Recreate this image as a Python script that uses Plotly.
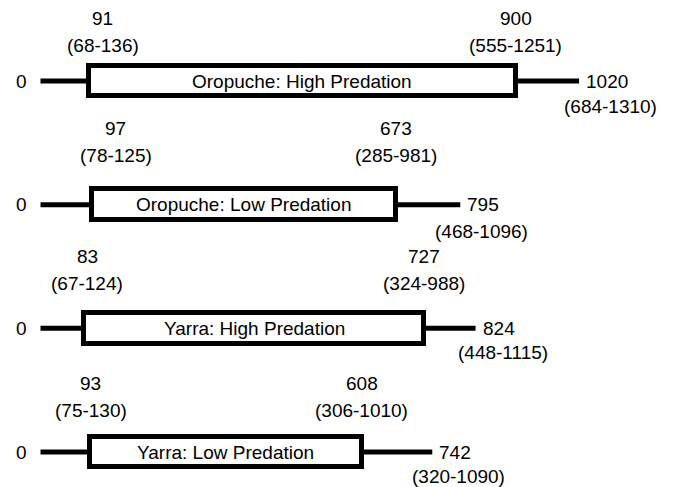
import plotly.graph_objects as go

# ---- data ----
groups = ["Oropuche: High Predation", "Oropuche: Low Predation",
          "Yarra: High Predation", "Yarra: Low Predation"]
start_vals = [91, 97, 83, 93]
start_ci = ["(68-136)", "(78-125)", "(67-124)", "(75-130)"]
box_end_vals = [900, 673, 727, 608]
box_end_ci = ["(555-1251)", "(285-981)", "(324-988)", "(306-1010)"]
final_vals = [1020, 795, 824, 742]
final_ci = ["(684-1310)", "(468-1096)", "(448-1115)", "(320-1090)"]
origin = 0

rows = list(range(len(groups)))

# ---- label placement (pixels, style only) ----
top_val_shift = [63, 76, 72, 69]
top_ci_shift = [36, 49, 45, 42]
start_xshift = [14, 24, 3, 1]
end_ci_xshift = [31, 21, 27, 26]
end_ci_yshift = [-25, -27, -24, -24]

FONT = "Liberation Sans, Arial, Helvetica, sans-serif"
FS = 19

fig = go.Figure()

# whisker lines (left and right of each box)
for i in rows:
    fig.add_trace(go.Scatter(
        x=[origin, start_vals[i], None, box_end_vals[i], final_vals[i]],
        y=[i, i, None, i, i],
        mode="lines", line=dict(color="black", width=5),
        hoverinfo="skip", showlegend=False, cliponaxis=False))

# boxes
fig.add_trace(go.Bar(
    y=rows,
    x=[e - s for s, e in zip(start_vals, box_end_vals)],
    base=start_vals,
    orientation="h",
    width=0.25,
    marker=dict(color="white", line=dict(color="black", width=5)),
    hoverinfo="skip", showlegend=False))

ann = []
for i in rows:
    ann.append(dict(x=(start_vals[i] + box_end_vals[i]) / 2, y=i, text=groups[i],
                    showarrow=False, xanchor="center", yanchor="middle"))
    ann.append(dict(x=origin, y=i, text=str(origin), showarrow=False,
                    xanchor="right", yanchor="middle", xshift=-12))
    ann.append(dict(x=start_vals[i], y=i, text=str(start_vals[i]), showarrow=False,
                    xanchor="center", yanchor="middle",
                    xshift=start_xshift[i], yshift=top_val_shift[i]))
    ann.append(dict(x=start_vals[i], y=i, text=start_ci[i], showarrow=False,
                    xanchor="center", yanchor="middle",
                    xshift=start_xshift[i], yshift=top_ci_shift[i]))
    ann.append(dict(x=box_end_vals[i], y=i, text=str(box_end_vals[i]), showarrow=False,
                    xanchor="center", yanchor="middle", yshift=top_val_shift[i]))
    ann.append(dict(x=box_end_vals[i], y=i, text=box_end_ci[i], showarrow=False,
                    xanchor="center", yanchor="middle", yshift=top_ci_shift[i]))
    ann.append(dict(x=final_vals[i], y=i, text=str(final_vals[i]), showarrow=False,
                    xanchor="left", yanchor="middle", xshift=5))
    ann.append(dict(x=final_vals[i], y=i, text=final_ci[i], showarrow=False,
                    xanchor="center", yanchor="middle",
                    xshift=end_ci_xshift[i], yshift=end_ci_yshift[i]))

fig.update_layout(
    width=668, height=479,
    margin=dict(l=0, r=0, t=0, b=0),
    paper_bgcolor="white", plot_bgcolor="white",
    font=dict(family=FONT, size=FS, color="black"),
    annotations=ann,
    xaxis=dict(range=[-61.55, 1203.6], visible=False, fixedrange=True),
    yaxis=dict(range=[3.283, -0.5903], visible=False, fixedrange=True),
    bargap=0,
)

fig.write_html("out.html")
